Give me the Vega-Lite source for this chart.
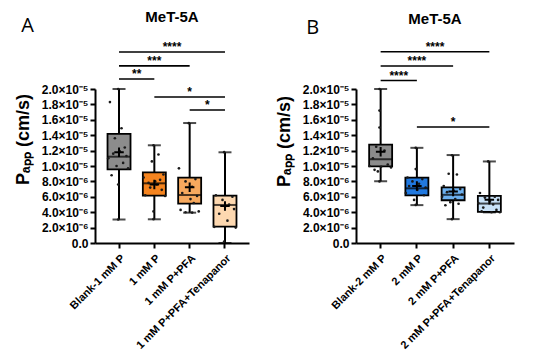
{
  "$schema": "https://vega.github.io/schema/vega-lite/v6.json",
  "padding": {"left": 14, "top": 10, "right": 5, "bottom": 2},
  "background": "white",
  "config": {
    "view": {"stroke": null},
    "font": "Liberation Sans",
    "axis": {"labelColor": "black", "titleColor": "black", "domainColor": "black", "tickColor": "black", "grid": false}
  },
  "resolve": {"scale": {"fill": "independent"}},
  "datasets": {
    "summary": [
      {"panel": "A", "group": "Blank-1 mM P", "min": 3.05e-6, "q1": 9.57e-6, "median": 1.121e-5, "q3": 1.416e-5, "max": 2.0e-5, "mean": 1.178e-5},
      {"panel": "A", "group": "1 mM P", "min": 3.08e-6, "q1": 6.15e-6, "median": 7.75e-6, "q3": 9.18e-6, "max": 1.269e-5, "mean": 7.6e-6},
      {"panel": "A", "group": "1 mM P+PFA", "min": 3.94e-6, "q1": 5.11e-6, "median": 6.23e-6, "q3": 8.48e-6, "max": 1.558e-5, "mean": 7.23e-6},
      {"panel": "A", "group": "1 mM P+PFA+Tenapanor", "min": 0, "q1": 2.12e-6, "median": 4.94e-6, "q3": 6.15e-6, "max": 1.178e-5, "mean": 4.8e-6},
      {"panel": "B", "group": "Blank-2 mM P", "min": 8.02e-6, "q1": 9.96e-6, "median": 1.088e-5, "q3": 1.277e-5, "max": 2.0e-5, "mean": 1.185e-5},
      {"panel": "B", "group": "2 mM P", "min": 4.92e-6, "q1": 6.18e-6, "median": 7.1e-6, "q3": 8.49e-6, "max": 1.236e-5, "mean": 7.4e-6},
      {"panel": "B", "group": "2 mM P+PFA", "min": 3.1e-6, "q1": 5.55e-6, "median": 6.26e-6, "q3": 7.23e-6, "max": 1.142e-5, "mean": 6.68e-6},
      {"panel": "B", "group": "2 mM P+PFA+Tenapanor", "min": 3.98e-6, "q1": 4.03e-6, "median": 5.12e-6, "q3": 6.13e-6, "max": 1.059e-5, "mean": 5.62e-6}
    ],
    "brackets": [
      {"panel": "A", "from": 0, "to": 1, "mid": 0.5, "y": 2.13e-5, "label": "**"},
      {"panel": "A", "from": 0, "to": 2, "mid": 1, "y": 2.30e-5, "label": "***"},
      {"panel": "A", "from": 0, "to": 3, "mid": 1.5, "y": 2.48e-5, "label": "****"},
      {"panel": "A", "from": 1, "to": 3, "mid": 2, "y": 1.896e-5, "label": "*"},
      {"panel": "A", "from": 2, "to": 3, "mid": 2.5, "y": 1.727e-5, "label": "*"},
      {"panel": "B", "from": 0, "to": 1, "mid": 0.5, "y": 2.11e-5, "label": "****"},
      {"panel": "B", "from": 0, "to": 2, "mid": 1, "y": 2.299e-5, "label": "****"},
      {"panel": "B", "from": 0, "to": 3, "mid": 1.5, "y": 2.484e-5, "label": "****"},
      {"panel": "B", "from": 1, "to": 3, "mid": 2, "y": 1.506e-5, "label": "*"}
    ],
    "points": [
      {"panel": "A", "group": "Blank-1 mM P", "rep": 8, "value": 2.0e-5},
      {"panel": "A", "group": "Blank-1 mM P", "rep": 3, "value": 1.83e-5},
      {"panel": "A", "group": "Blank-1 mM P", "rep": 10, "value": 1.49e-5},
      {"panel": "A", "group": "Blank-1 mM P", "rep": 6, "value": 1.36e-5},
      {"panel": "A", "group": "Blank-1 mM P", "rep": 12, "value": 1.24e-5},
      {"panel": "A", "group": "Blank-1 mM P", "rep": 9, "value": 1.19e-5},
      {"panel": "A", "group": "Blank-1 mM P", "rep": 5, "value": 1.16e-5},
      {"panel": "A", "group": "Blank-1 mM P", "rep": 13, "value": 1.13e-5},
      {"panel": "A", "group": "Blank-1 mM P", "rep": 2, "value": 1.10e-5},
      {"panel": "A", "group": "Blank-1 mM P", "rep": 11, "value": 1.04e-5},
      {"panel": "A", "group": "Blank-1 mM P", "rep": 7, "value": 1.00e-5},
      {"panel": "A", "group": "Blank-1 mM P", "rep": 14, "value": 9.7e-6},
      {"panel": "A", "group": "Blank-1 mM P", "rep": 4, "value": 8.8e-6},
      {"panel": "A", "group": "Blank-1 mM P", "rep": 8, "value": 7.6e-6},
      {"panel": "A", "group": "Blank-1 mM P", "rep": 8, "value": 3.05e-6},
      {"panel": "A", "group": "1 mM P", "rep": 8, "value": 1.27e-5},
      {"panel": "A", "group": "1 mM P", "rep": 11, "value": 1.15e-5},
      {"panel": "A", "group": "1 mM P", "rep": 7, "value": 1.06e-5},
      {"panel": "A", "group": "1 mM P", "rep": 14, "value": 8.9e-6},
      {"panel": "A", "group": "1 mM P", "rep": 2, "value": 8.5e-6},
      {"panel": "A", "group": "1 mM P", "rep": 12, "value": 8.2e-6},
      {"panel": "A", "group": "1 mM P", "rep": 9, "value": 8.0e-6},
      {"panel": "A", "group": "1 mM P", "rep": 5, "value": 7.8e-6},
      {"panel": "A", "group": "1 mM P", "rep": 10, "value": 7.6e-6},
      {"panel": "A", "group": "1 mM P", "rep": 6, "value": 7.2e-6},
      {"panel": "A", "group": "1 mM P", "rep": 13, "value": 6.9e-6},
      {"panel": "A", "group": "1 mM P", "rep": 3, "value": 6.2e-6},
      {"panel": "A", "group": "1 mM P", "rep": 15, "value": 6.1e-6},
      {"panel": "A", "group": "1 mM P", "rep": 8, "value": 4.1e-6},
      {"panel": "A", "group": "1 mM P", "rep": 8, "value": 3.1e-6},
      {"panel": "A", "group": "1 mM P+PFA", "rep": 8, "value": 1.556e-5},
      {"panel": "A", "group": "1 mM P+PFA", "rep": 2, "value": 9.7e-6},
      {"panel": "A", "group": "1 mM P+PFA", "rep": 12, "value": 8.3e-6},
      {"panel": "A", "group": "1 mM P+PFA", "rep": 6, "value": 8.0e-6},
      {"panel": "A", "group": "1 mM P+PFA", "rep": 10, "value": 7.3e-6},
      {"panel": "A", "group": "1 mM P+PFA", "rep": 4, "value": 6.5e-6},
      {"panel": "A", "group": "1 mM P+PFA", "rep": 13, "value": 6.1e-6},
      {"panel": "A", "group": "1 mM P+PFA", "rep": 9, "value": 5.7e-6},
      {"panel": "A", "group": "1 mM P+PFA", "rep": 11, "value": 5.2e-6},
      {"panel": "A", "group": "1 mM P+PFA", "rep": 3, "value": 4.3e-6},
      {"panel": "A", "group": "1 mM P+PFA", "rep": 14, "value": 4.1e-6},
      {"panel": "A", "group": "1 mM P+PFA", "rep": 6, "value": 4.0e-6},
      {"panel": "A", "group": "1 mM P+PFA", "rep": 10, "value": 3.95e-6},
      {"panel": "A", "group": "1 mM P+PFA+Tenapanor", "rep": 8, "value": 1.18e-5},
      {"panel": "A", "group": "1 mM P+PFA+Tenapanor", "rep": 3, "value": 6.2e-6},
      {"panel": "A", "group": "1 mM P+PFA+Tenapanor", "rep": 13, "value": 6.0e-6},
      {"panel": "A", "group": "1 mM P+PFA+Tenapanor", "rep": 7, "value": 5.6e-6},
      {"panel": "A", "group": "1 mM P+PFA+Tenapanor", "rep": 11, "value": 5.0e-6},
      {"panel": "A", "group": "1 mM P+PFA+Tenapanor", "rep": 9, "value": 4.8e-6},
      {"panel": "A", "group": "1 mM P+PFA+Tenapanor", "rep": 14, "value": 4.4e-6},
      {"panel": "A", "group": "1 mM P+PFA+Tenapanor", "rep": 5, "value": 3.8e-6},
      {"panel": "A", "group": "1 mM P+PFA+Tenapanor", "rep": 10, "value": 2.9e-6},
      {"panel": "A", "group": "1 mM P+PFA+Tenapanor", "rep": 2, "value": 2.1e-6},
      {"panel": "A", "group": "1 mM P+PFA+Tenapanor", "rep": 15, "value": 2.0e-6},
      {"panel": "A", "group": "1 mM P+PFA+Tenapanor", "rep": 8, "value": 2.0e-7},
      {"panel": "B", "group": "Blank-2 mM P", "rep": 8, "value": 2.0e-5},
      {"panel": "B", "group": "Blank-2 mM P", "rep": 8, "value": 1.72e-5},
      {"panel": "B", "group": "Blank-2 mM P", "rep": 8, "value": 1.5e-5},
      {"panel": "B", "group": "Blank-2 mM P", "rep": 6, "value": 1.25e-5},
      {"panel": "B", "group": "Blank-2 mM P", "rep": 11, "value": 1.2e-5},
      {"panel": "B", "group": "Blank-2 mM P", "rep": 4, "value": 1.1e-5},
      {"panel": "B", "group": "Blank-2 mM P", "rep": 13, "value": 1.02e-5},
      {"panel": "B", "group": "Blank-2 mM P", "rep": 2, "value": 1.0e-5},
      {"panel": "B", "group": "Blank-2 mM P", "rep": 9, "value": 9.9e-6},
      {"panel": "B", "group": "Blank-2 mM P", "rep": 15, "value": 9.8e-6},
      {"panel": "B", "group": "Blank-2 mM P", "rep": 5, "value": 9.5e-6},
      {"panel": "B", "group": "Blank-2 mM P", "rep": 7, "value": 9.3e-6},
      {"panel": "B", "group": "Blank-2 mM P", "rep": 8, "value": 8.0e-6},
      {"panel": "B", "group": "2 mM P", "rep": 8, "value": 1.236e-5},
      {"panel": "B", "group": "2 mM P", "rep": 8, "value": 9.6e-6},
      {"panel": "B", "group": "2 mM P", "rep": 3, "value": 8.5e-6},
      {"panel": "B", "group": "2 mM P", "rep": 12, "value": 8.3e-6},
      {"panel": "B", "group": "2 mM P", "rep": 6, "value": 8.0e-6},
      {"panel": "B", "group": "2 mM P", "rep": 10, "value": 7.7e-6},
      {"panel": "B", "group": "2 mM P", "rep": 4, "value": 7.4e-6},
      {"panel": "B", "group": "2 mM P", "rep": 14, "value": 7.2e-6},
      {"panel": "B", "group": "2 mM P", "rep": 9, "value": 6.9e-6},
      {"panel": "B", "group": "2 mM P", "rep": 2, "value": 6.5e-6},
      {"panel": "B", "group": "2 mM P", "rep": 13, "value": 6.2e-6},
      {"panel": "B", "group": "2 mM P", "rep": 7, "value": 5.6e-6},
      {"panel": "B", "group": "2 mM P", "rep": 8, "value": 4.95e-6},
      {"panel": "B", "group": "2 mM P+PFA", "rep": 8, "value": 1.14e-5},
      {"panel": "B", "group": "2 mM P+PFA", "rep": 6, "value": 9.0e-6},
      {"panel": "B", "group": "2 mM P+PFA", "rep": 11, "value": 8.9e-6},
      {"panel": "B", "group": "2 mM P+PFA", "rep": 3, "value": 7.4e-6},
      {"panel": "B", "group": "2 mM P+PFA", "rep": 13, "value": 7.0e-6},
      {"panel": "B", "group": "2 mM P+PFA", "rep": 9, "value": 6.8e-6},
      {"panel": "B", "group": "2 mM P+PFA", "rep": 5, "value": 6.6e-6},
      {"panel": "B", "group": "2 mM P+PFA", "rep": 14, "value": 6.3e-6},
      {"panel": "B", "group": "2 mM P+PFA", "rep": 2, "value": 6.0e-6},
      {"panel": "B", "group": "2 mM P+PFA", "rep": 10, "value": 5.7e-6},
      {"panel": "B", "group": "2 mM P+PFA", "rep": 7, "value": 5.3e-6},
      {"panel": "B", "group": "2 mM P+PFA", "rep": 12, "value": 5.1e-6},
      {"panel": "B", "group": "2 mM P+PFA", "rep": 4, "value": 4.9e-6},
      {"panel": "B", "group": "2 mM P+PFA", "rep": 8, "value": 3.1e-6},
      {"panel": "B", "group": "2 mM P+PFA+Tenapanor", "rep": 8, "value": 1.06e-5},
      {"panel": "B", "group": "2 mM P+PFA+Tenapanor", "rep": 3, "value": 6.5e-6},
      {"panel": "B", "group": "2 mM P+PFA+Tenapanor", "rep": 12, "value": 6.0e-6},
      {"panel": "B", "group": "2 mM P+PFA+Tenapanor", "rep": 6, "value": 5.9e-6},
      {"panel": "B", "group": "2 mM P+PFA+Tenapanor", "rep": 14, "value": 5.6e-6},
      {"panel": "B", "group": "2 mM P+PFA+Tenapanor", "rep": 9, "value": 5.4e-6},
      {"panel": "B", "group": "2 mM P+PFA+Tenapanor", "rep": 2, "value": 5.2e-6},
      {"panel": "B", "group": "2 mM P+PFA+Tenapanor", "rep": 11, "value": 5.0e-6},
      {"panel": "B", "group": "2 mM P+PFA+Tenapanor", "rep": 5, "value": 4.6e-6},
      {"panel": "B", "group": "2 mM P+PFA+Tenapanor", "rep": 13, "value": 4.3e-6},
      {"panel": "B", "group": "2 mM P+PFA+Tenapanor", "rep": 4, "value": 4.1e-6},
      {"panel": "B", "group": "2 mM P+PFA+Tenapanor", "rep": 10, "value": 4.0e-6},
      {"panel": "B", "group": "2 mM P+PFA+Tenapanor", "rep": 15, "value": 4.0e-6}
    ]
  },
  "spacing": 26,
  "hconcat": [
    {
      "title": {"text": "A", "anchor": "start", "frame": "bounds", "fontSize": 20, "fontWeight": "normal", "font": "Open Sans", "color": "black", "offset": -26, "dx": 7},
      "vconcat": [
        {
          "width": 154,
          "height": 154,
          "title": {"text": "MeT-5A", "fontSize": 15, "fontWeight": "bold", "font": "Liberation Sans", "color": "black", "offset": 16, "anchor": "middle", "frame": "group"},
          "resolve": {"scale": {"x": "independent"}},
          "layer": [
            {
              "data": {"name": "brackets"},
              "transform": [{"filter": "datum.panel == 'A'"}],
              "encoding": {
                "y": {
                  "field": "y", "type": "quantitative",
                  "scale": {"domain": [0, 2.0e-5], "nice": false, "zero": true},
                  "axis": {
                    "title": "Pₐₚₚ (cm/s)", "titleFontSize": 18, "titleFontWeight": "bold", "titleFont": "Liberation Sans", "titlePadding": 9, "titleY": 50,
                    "values": [0, 2e-6, 4e-6, 6e-6, 8e-6, 1e-5, 1.2e-5, 1.4e-5, 1.6e-5, 1.8e-5, 2e-5],
                    "tickCount": 12, "labelOverlap": false, "labelSeparation": 0,
                    "labelExpr": "datum.value == 0 ? '0.0' : (datum.value < 9.5e-6 ? format(datum.value * 1e6, '.1f') + '×10⁻⁶' : format(datum.value * 1e5, '.1f') + '×10⁻⁵')",
                    "labelFontWeight": "bold", "labelFontSize": 12, "labelFont": "Liberation Sans", "tickSize": 5, "tickWidth": 2, "domainWidth": 2, "labelPadding": 2
                  }
                }
              },
              "layer": [
                {
                  "mark": {"type": "rule", "color": "black", "strokeWidth": 1.6, "clip": false},
                  "encoding": {
                    "x": {"field": "from", "type": "quantitative", "scale": {"domain": [-0.68, 3.68], "nice": false, "zero": false}, "axis": null},
                    "x2": {"field": "to"}
                  }
                },
                {
                  "mark": {"type": "text", "fontSize": 12, "fontWeight": "bold", "baseline": "alphabetic", "dy": -1, "color": "black", "clip": false},
                  "encoding": {
                    "x": {"field": "mid", "type": "quantitative", "scale": {"domain": [-0.68, 3.68], "nice": false, "zero": false}, "axis": null},
                    "text": {"field": "label"}
                  }
                }
              ]
            },
            {
              "encoding": {
                "x": {
                  "field": "group", "type": "nominal",
                  "sort": ["Blank-1 mM P", "1 mM P", "1 mM P+PFA", "1 mM P+PFA+Tenapanor"],
                  "scale": {"domain": ["Blank-1 mM P", "1 mM P", "1 mM P+PFA", "1 mM P+PFA+Tenapanor"], "paddingInner": 0.3, "paddingOuter": 0.33},
                  "axis": {"title": null, "labelAngle": -45, "labelAlign": "right", "labelBaseline": "top", "labelFontWeight": "bold", "labelFontSize": 11, "labelFont": "Liberation Sans", "tickSize": 5, "tickWidth": 2, "domainWidth": 2, "labelPadding": 4}
                }
              },
              "layer": [
                {
                  "data": {"name": "summary"},
                  "transform": [{"filter": "datum.panel == 'A'"}],
                  "mark": {"type": "rule", "color": "black", "strokeWidth": 2},
                  "encoding": {
                    "y": {"field": "min", "type": "quantitative", "scale": {"domain": [0, 2.0e-5], "nice": false}, "axis": {"labelOverlap": false, "tickCount": 12, "title": "Pₐₚₚ (cm/s)"}},
                    "y2": {"field": "max"}
                  }
                },
                {
                  "data": {"name": "summary"},
                  "transform": [{"filter": "datum.panel == 'A'"}],
                  "mark": {"type": "tick", "orient": "horizontal", "color": "black", "size": 13, "thickness": 2},
                  "encoding": {"y": {"field": "min", "type": "quantitative", "scale": {"domain": [0, 2.0e-5], "nice": false}, "axis": {"labelOverlap": false, "tickCount": 12, "title": "Pₐₚₚ (cm/s)"}}}
                },
                {
                  "data": {"name": "summary"},
                  "transform": [{"filter": "datum.panel == 'A'"}],
                  "mark": {"type": "tick", "orient": "horizontal", "color": "black", "size": 13, "thickness": 2},
                  "encoding": {"y": {"field": "max", "type": "quantitative", "scale": {"domain": [0, 2.0e-5], "nice": false}, "axis": {"labelOverlap": false, "tickCount": 12, "title": "Pₐₚₚ (cm/s)"}}}
                },
                {
                  "data": {"name": "summary"},
                  "transform": [{"filter": "datum.panel == 'A'"}],
                  "mark": {"type": "bar", "width": 23, "stroke": "black", "strokeWidth": 1.8},
                  "encoding": {
                    "y": {"field": "q1", "type": "quantitative", "scale": {"domain": [0, 2.0e-5], "nice": false}, "axis": {"labelOverlap": false, "tickCount": 12, "title": "Pₐₚₚ (cm/s)"}},
                    "y2": {"field": "q3"},
                    "fill": {"field": "group", "type": "nominal", "scale": {"domain": ["Blank-1 mM P", "1 mM P", "1 mM P+PFA", "1 mM P+PFA+Tenapanor"], "range": ["#8c8c8c", "#f5841f", "#f7a95e", "#fdd8b0"]}, "legend": null}
                  }
                },
                {
                  "data": {"name": "summary"},
                  "transform": [{"filter": "datum.panel == 'A'"}],
                  "mark": {"type": "tick", "orient": "horizontal", "color": "black", "size": 23, "thickness": 2},
                  "encoding": {"y": {"field": "median", "type": "quantitative", "scale": {"domain": [0, 2.0e-5], "nice": false}, "axis": {"labelOverlap": false, "tickCount": 12, "title": "Pₐₚₚ (cm/s)"}}}
                },
                {
                  "data": {"name": "points"},
                  "transform": [{"filter": "datum.panel == 'A'"}],
                  "mark": {"type": "circle", "size": 7, "color": "#1a1a1a", "opacity": 1},
                  "encoding": {
                    "xOffset": {"field": "rep", "type": "ordinal", "scale": {"paddingOuter": 3}},
                    "y": {"field": "value", "type": "quantitative", "scale": {"domain": [0, 2.0e-5], "nice": false}, "axis": {"labelOverlap": false, "tickCount": 12, "title": "Pₐₚₚ (cm/s)"}}
                  }
                },
                {
                  "data": {"name": "summary"},
                  "transform": [{"filter": "datum.panel == 'A'"}],
                  "mark": {"type": "point", "shape": "M-1,0L1,0M0,-1L0,1", "size": 90, "filled": false, "stroke": "black", "strokeWidth": 2, "opacity": 1},
                  "encoding": {"y": {"field": "mean", "type": "quantitative", "scale": {"domain": [0, 2.0e-5], "nice": false}, "axis": {"labelOverlap": false, "tickCount": 12, "title": "Pₐₚₚ (cm/s)"}}}
                }
              ]
            }
          ]
        }
      ]
    },
    {
      "title": {"text": "B", "anchor": "start", "frame": "bounds", "fontSize": 20, "fontWeight": "normal", "font": "Open Sans", "color": "black", "offset": -26, "dx": 31},
      "vconcat": [
        {
          "width": 158,
          "height": 154,
          "title": {"text": "MeT-5A", "fontSize": 15, "fontWeight": "bold", "font": "Liberation Sans", "color": "black", "offset": 14, "anchor": "middle", "frame": "group"},
          "resolve": {"scale": {"x": "independent"}},
          "layer": [
            {
              "data": {"name": "brackets"},
              "transform": [{"filter": "datum.panel == 'B'"}],
              "encoding": {
                "y": {
                  "field": "y", "type": "quantitative",
                  "scale": {"domain": [0, 2.0e-5], "nice": false, "zero": true},
                  "axis": {
                    "title": "Pₐₚₚ (cm/s)", "titleFontSize": 18, "titleFontWeight": "bold", "titleFont": "Liberation Sans", "titlePadding": 9, "titleY": 52,
                    "values": [0, 2e-6, 4e-6, 6e-6, 8e-6, 1e-5, 1.2e-5, 1.4e-5, 1.6e-5, 1.8e-5, 2e-5],
                    "tickCount": 12, "labelOverlap": false, "labelSeparation": 0,
                    "labelExpr": "datum.value == 0 ? '0.0' : (datum.value < 9.5e-6 ? format(datum.value * 1e6, '.1f') + '×10⁻⁶' : format(datum.value * 1e5, '.1f') + '×10⁻⁵')",
                    "labelFontWeight": "bold", "labelFontSize": 12, "labelFont": "Liberation Sans", "tickSize": 5, "tickWidth": 2, "domainWidth": 2, "labelPadding": 2
                  }
                }
              },
              "layer": [
                {
                  "mark": {"type": "rule", "color": "black", "strokeWidth": 1.6, "clip": false},
                  "encoding": {
                    "x": {"field": "from", "type": "quantitative", "scale": {"domain": [-0.68, 3.68], "nice": false, "zero": false}, "axis": null},
                    "x2": {"field": "to"}
                  }
                },
                {
                  "mark": {"type": "text", "fontSize": 12, "fontWeight": "bold", "baseline": "alphabetic", "dy": -1, "color": "black", "clip": false},
                  "encoding": {
                    "x": {"field": "mid", "type": "quantitative", "scale": {"domain": [-0.68, 3.68], "nice": false, "zero": false}, "axis": null},
                    "text": {"field": "label"}
                  }
                }
              ]
            },
            {
              "encoding": {
                "x": {
                  "field": "group", "type": "nominal",
                  "sort": ["Blank-2 mM P", "2 mM P", "2 mM P+PFA", "2 mM P+PFA+Tenapanor"],
                  "scale": {"domain": ["Blank-2 mM P", "2 mM P", "2 mM P+PFA", "2 mM P+PFA+Tenapanor"], "paddingInner": 0.3, "paddingOuter": 0.33},
                  "axis": {"title": null, "labelAngle": -45, "labelAlign": "right", "labelBaseline": "top", "labelFontWeight": "bold", "labelFontSize": 11, "labelFont": "Liberation Sans", "tickSize": 5, "tickWidth": 2, "domainWidth": 2, "labelPadding": 4}
                }
              },
              "layer": [
                {
                  "data": {"name": "summary"},
                  "transform": [{"filter": "datum.panel == 'B'"}],
                  "mark": {"type": "rule", "color": "black", "strokeWidth": 2},
                  "encoding": {
                    "y": {"field": "min", "type": "quantitative", "scale": {"domain": [0, 2.0e-5], "nice": false}, "axis": {"labelOverlap": false, "tickCount": 12, "title": "Pₐₚₚ (cm/s)"}},
                    "y2": {"field": "max"}
                  }
                },
                {
                  "data": {"name": "summary"},
                  "transform": [{"filter": "datum.panel == 'B'"}],
                  "mark": {"type": "tick", "orient": "horizontal", "color": "black", "size": 13, "thickness": 2},
                  "encoding": {"y": {"field": "min", "type": "quantitative", "scale": {"domain": [0, 2.0e-5], "nice": false}, "axis": {"labelOverlap": false, "tickCount": 12, "title": "Pₐₚₚ (cm/s)"}}}
                },
                {
                  "data": {"name": "summary"},
                  "transform": [{"filter": "datum.panel == 'B'"}],
                  "mark": {"type": "tick", "orient": "horizontal", "color": "black", "size": 13, "thickness": 2},
                  "encoding": {"y": {"field": "max", "type": "quantitative", "scale": {"domain": [0, 2.0e-5], "nice": false}, "axis": {"labelOverlap": false, "tickCount": 12, "title": "Pₐₚₚ (cm/s)"}}}
                },
                {
                  "data": {"name": "summary"},
                  "transform": [{"filter": "datum.panel == 'B'"}],
                  "mark": {"type": "bar", "width": 23, "stroke": "black", "strokeWidth": 1.8},
                  "encoding": {
                    "y": {"field": "q1", "type": "quantitative", "scale": {"domain": [0, 2.0e-5], "nice": false}, "axis": {"labelOverlap": false, "tickCount": 12, "title": "Pₐₚₚ (cm/s)"}},
                    "y2": {"field": "q3"},
                    "fill": {"field": "group", "type": "nominal", "scale": {"domain": ["Blank-2 mM P", "2 mM P", "2 mM P+PFA", "2 mM P+PFA+Tenapanor"], "range": ["#8c8c8c", "#2179e0", "#6cb0ef", "#c9e2f8"]}, "legend": null}
                  }
                },
                {
                  "data": {"name": "summary"},
                  "transform": [{"filter": "datum.panel == 'B'"}],
                  "mark": {"type": "tick", "orient": "horizontal", "color": "black", "size": 23, "thickness": 2},
                  "encoding": {"y": {"field": "median", "type": "quantitative", "scale": {"domain": [0, 2.0e-5], "nice": false}, "axis": {"labelOverlap": false, "tickCount": 12, "title": "Pₐₚₚ (cm/s)"}}}
                },
                {
                  "data": {"name": "points"},
                  "transform": [{"filter": "datum.panel == 'B'"}],
                  "mark": {"type": "circle", "size": 7, "color": "#1a1a1a", "opacity": 1},
                  "encoding": {
                    "xOffset": {"field": "rep", "type": "ordinal", "scale": {"paddingOuter": 3}},
                    "y": {"field": "value", "type": "quantitative", "scale": {"domain": [0, 2.0e-5], "nice": false}, "axis": {"labelOverlap": false, "tickCount": 12, "title": "Pₐₚₚ (cm/s)"}}
                  }
                },
                {
                  "data": {"name": "summary"},
                  "transform": [{"filter": "datum.panel == 'B'"}],
                  "mark": {"type": "point", "shape": "M-1,0L1,0M0,-1L0,1", "size": 90, "filled": false, "stroke": "black", "strokeWidth": 2, "opacity": 1},
                  "encoding": {"y": {"field": "mean", "type": "quantitative", "scale": {"domain": [0, 2.0e-5], "nice": false}, "axis": {"labelOverlap": false, "tickCount": 12, "title": "Pₐₚₚ (cm/s)"}}}
                }
              ]
            }
          ]
        }
      ]
    }
  ]
}
